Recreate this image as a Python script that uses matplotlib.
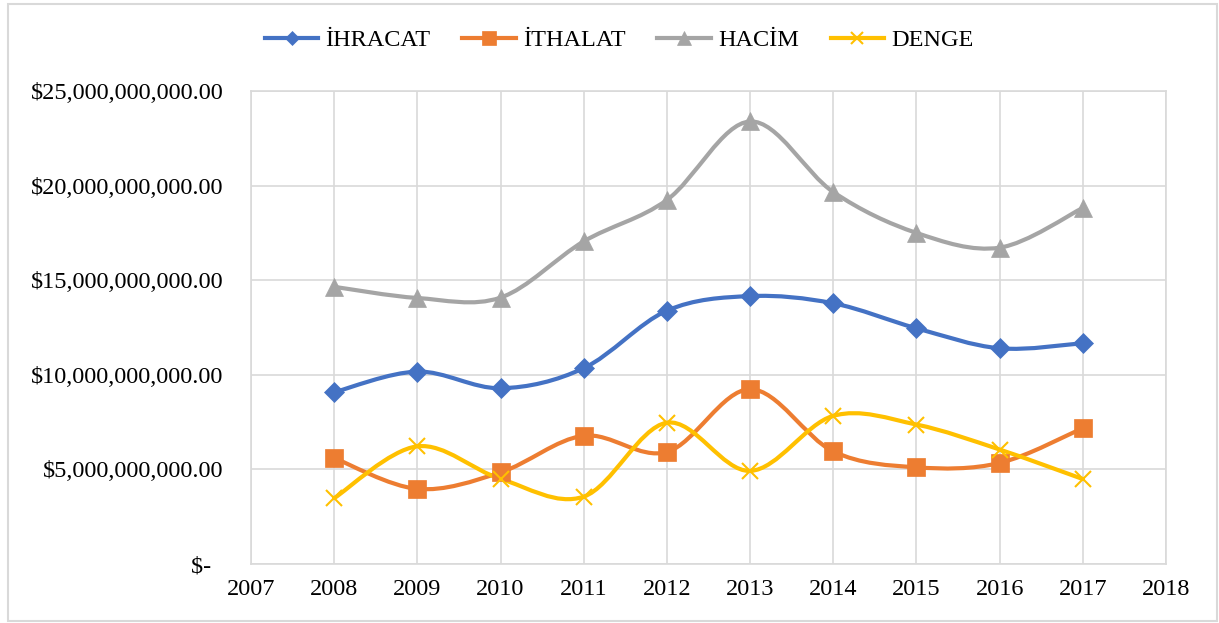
import matplotlib
matplotlib.use("Agg")
import matplotlib.pyplot as plt
from matplotlib.path import Path
from matplotlib.patches import PathPatch, Rectangle
from matplotlib.lines import Line2D
from matplotlib.ticker import FuncFormatter

plt.rcParams['font.family'] = ['Liberation Serif', 'DejaVu Serif']

years = [2008, 2009, 2010, 2011, 2012, 2013, 2014, 2015, 2016, 2017]
ihracat = [9.08e9, 10.17e9, 9.29e9, 10.35e9, 13.39e9, 14.16e9, 13.78e9, 12.46e9, 11.40e9, 11.67e9]
ithalat = [5.60e9, 3.97e9, 4.84e9, 6.78e9, 5.92e9, 9.24e9, 5.95e9, 5.11e9, 5.34e9, 7.18e9]
hacim = [14.65e9, 14.06e9, 14.08e9, 17.05e9, 19.24e9, 23.39e9, 19.66e9, 17.50e9, 16.72e9, 18.82e9]
denge = [3.48e9, 6.22e9, 4.50e9, 3.56e9, 7.47e9, 4.92e9, 7.83e9, 7.37e9, 6.05e9, 4.49e9]

series = [
    ("İHRACAT", ihracat, "#4472C4", "D", 10),
    ("İTHALAT", ithalat, "#ED7D31", "s", 12.5),
    ("HACİM", hacim, "#A5A5A5", "^", 13),
    ("DENGE", denge, "#FFC000", "x", 11.5),
]


def smooth_path(xs, ys):
    # excel-like smoothed line: cubic bezier through each point
    pts = list(zip(xs, ys))
    n = len(pts)
    verts = [pts[0]]
    codes = [Path.MOVETO]
    for i in range(n - 1):
        p0 = pts[i - 1] if i > 0 else pts[i]
        p1 = pts[i]
        p2 = pts[i + 1]
        p3 = pts[i + 2] if i + 2 < n else pts[i + 1]
        c1 = (p1[0] + (p2[0] - p0[0]) / 6, p1[1] + (p2[1] - p0[1]) / 6)
        c2 = (p2[0] - (p3[0] - p1[0]) / 6, p2[1] - (p3[1] - p1[1]) / 6)
        verts += [c1, c2, p2]
        codes += [Path.CURVE4] * 3
    return Path(verts, codes)


fig = plt.figure(figsize=(12.19, 6.23), dpi=100)
ax = fig.add_axes([251 / 1219, 1 - 564 / 623, (1166 - 251) / 1219, (564 - 91) / 623])

handles = []
for name, vals, col, mk, ms in series:
    ax.add_patch(PathPatch(smooth_path(years, vals), fill=False, edgecolor=col,
                           linewidth=3, capstyle='round', joinstyle='round', zorder=3))
    ax.plot(years, vals, linestyle='none', marker=mk, markersize=ms, color=col,
            markeredgecolor=col, markeredgewidth=1.5 if mk == 'x' else 0.5, zorder=4)
    handles.append(Line2D([], [], color=col, linewidth=3, marker=mk,
                          markersize=ms * 0.75, markeredgecolor=col,
                          markeredgewidth=1.5 if mk == 'x' else 0.5, label=name))

ax.set_xlim(2007, 2018)
ax.set_ylim(0, 25e9)
ax.set_xticks(range(2007, 2019))
ax.set_yticks([0, 5e9, 10e9, 15e9, 20e9, 25e9])
ax.yaxis.set_major_formatter(FuncFormatter(lambda v, p: f"${v:,.2f}" if v > 0 else "$-  "))
ax.tick_params(axis='both', length=0, labelsize=17.5, colors='#000000')
ax.tick_params(axis='y', pad=20)
ax.tick_params(axis='x', pad=11)
ax.grid(True, color='#D9D9D9', linewidth=1.2)
ax.set_axisbelow(True)
for s in ax.spines.values():
    s.set_color('#D9D9D9')
    s.set_linewidth(1.2)

fig.legend(handles=handles, loc='center', bbox_to_anchor=(0.508, 1 - 40 / 623),
           ncol=4, frameon=False, fontsize=17.5, handlelength=2.2,
           handletextpad=0.3, columnspacing=1.3, numpoints=1)

fig.patches.append(Rectangle((8 / 1219, 1 - 621 / 623), (1217 - 8) / 1219, (621 - 4) / 623,
                             transform=fig.transFigure, fill=False,
                             edgecolor='#D9D9D9', linewidth=1.5))

fig.savefig("out.png", dpi=100)
